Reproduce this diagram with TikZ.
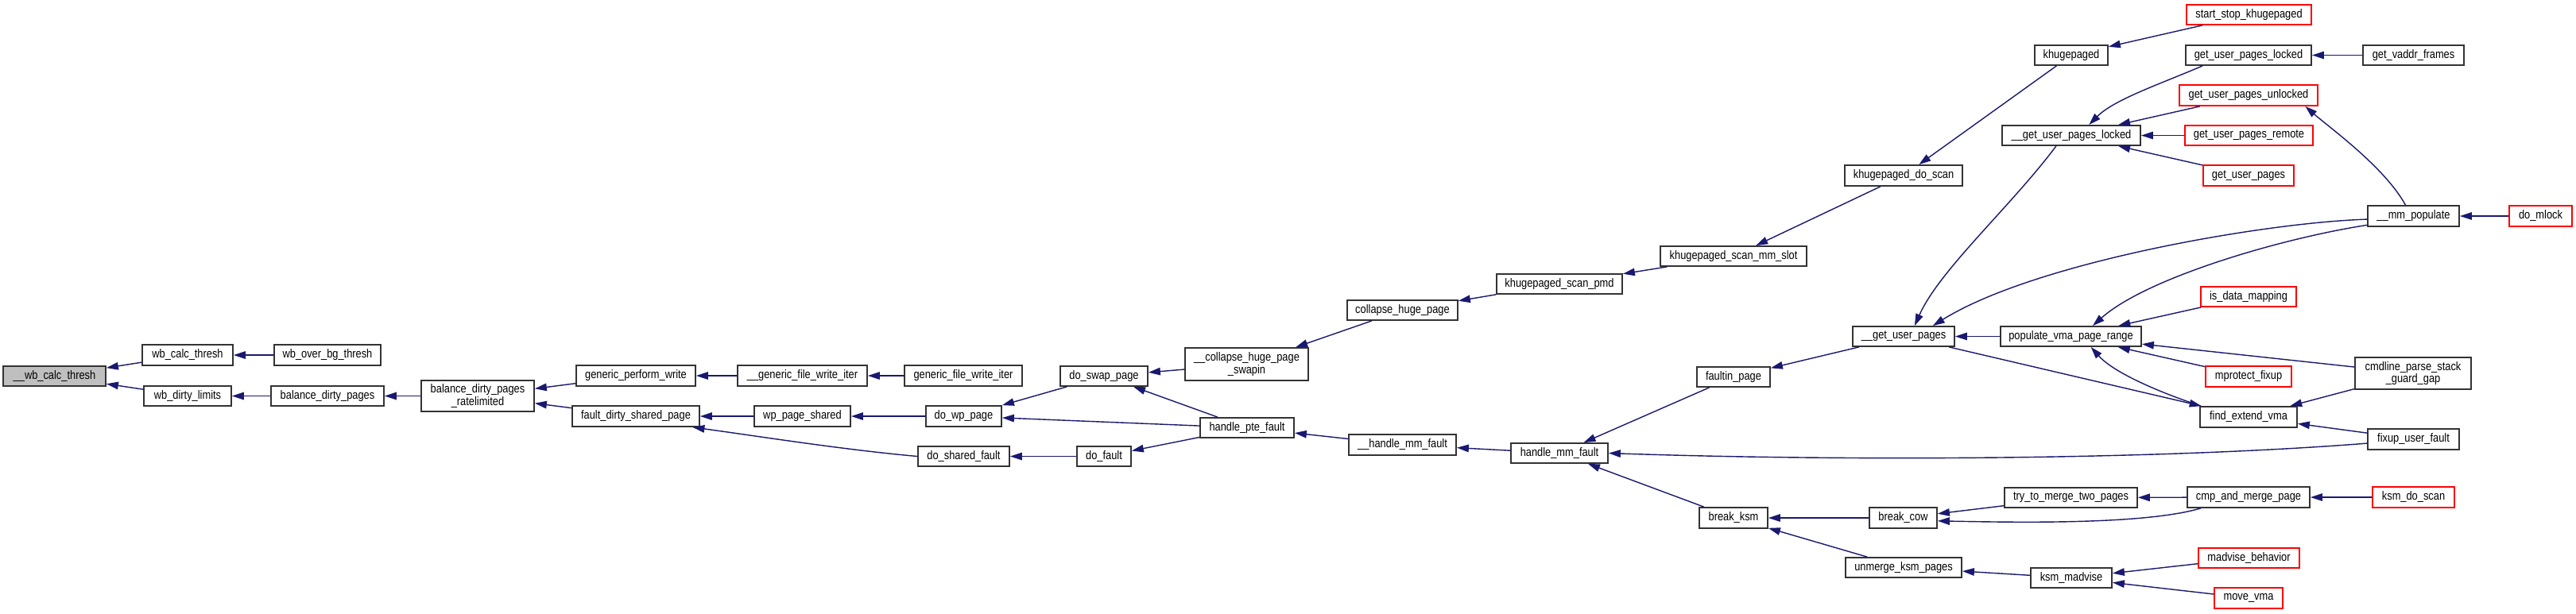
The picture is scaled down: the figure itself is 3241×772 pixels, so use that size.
\documentclass[tikz,border=0pt]{standalone}
\usepackage{fontspec}
\setmainfont[FakeStretch=0.85]{Liberation Sans}
\usetikzlibrary{arrows.meta}
\definecolor{edgeblue}{HTML}{191970}
\tikzset{
  box/.style={draw=black!80, line width=1pt, fill=white, inner sep=0pt, align=center,
    font=\fontsize{8.6}{8.8}\selectfont},
  redbox/.style={box, draw=red},
  mainbox/.style={box, fill=black!25},
  edge/.style={draw=edgeblue, line width=0.8pt, -{Triangle[length=0.3cm,width=0.19cm]}}
}
\newcommand{\fn}[7][box]{%
  \node[#1, minimum width={(#5-#3)*0.02cm}, minimum height={(#6-#4)*0.02cm}]
    (#2) at ({(#3+#5)/2},{(#4+#6)/2}) {#7};}
\begin{document}
\begin{tikzpicture}[x=0.02cm,y=-0.02cm]
\useasboundingbox (0,0) rectangle (3241,772);
% nodes
\fn[mainbox]{wbctz}{4}{461}{133}{486}{\_\_wb\_calc\_thresh}
\fn{wbct}{179}{434}{293}{460}{wb\_calc\_thresh}
\fn{wbover}{345}{434}{479}{460}{wb\_over\_bg\_thresh}
\fn{wbdl}{181}{486}{291}{511}{wb\_dirty\_limits}
\fn{bdp}{341}{486}{483}{511}{balance\_dirty\_pages}
\fn{bdpr}{530}{479}{672}{518}{balance\_dirty\_pages\\\_ratelimited}
\fn{gpw}{725}{460}{875}{486}{generic\_perform\_write}
\fn{gfwiz}{928}{460}{1091}{486}{\_\_generic\_file\_write\_iter}
\fn{gfwi}{1138}{460}{1286}{486}{generic\_file\_write\_iter}
\fn{fdsp}{720}{511}{880}{537}{fault\_dirty\_shared\_page}
\fn{wps}{949}{511}{1070}{537}{wp\_page\_shared}
\fn{dwp}{1165}{511}{1260}{537}{do\_wp\_page}
\fn{dsf}{1155}{562}{1270}{587}{do\_shared\_fault}
\fn{dsp}{1334}{461}{1444}{486}{do\_swap\_page}
\fn{swapin}{1491}{438}{1646}{479}{\_\_collapse\_huge\_page\\\_swapin}
\fn{chp}{1695}{378}{1834}{403}{collapse\_huge\_page}
\fn{ksp}{1883}{345}{2041}{370}{khugepaged\_scan\_pmd}
\fn{ksms}{2089}{310}{2273}{335}{khugepaged\_scan\_mm\_slot}
\fn{kds}{2321}{208}{2469}{234}{khugepaged\_do\_scan}
\fn{khp}{2560}{57}{2652}{82}{khugepaged}
\fn[redbox]{sskh}{2751}{6}{2908}{31}{start\_stop\_khugepaged}
\fn{hpf}{1510}{526}{1628}{551}{handle\_pte\_fault}
\fn{dfault}{1355}{562}{1423}{587}{do\_fault}
\fn{hmfz}{1697}{547}{1832}{573}{\_\_handle\_mm\_fault}
\fn{hmf}{1901}{558}{2023}{583}{handle\_mm\_fault}
\fn{fip}{2135}{462}{2227}{487}{faultin\_page}
\fn{gup}{2331}{411}{2459}{436}{\_\_get\_user\_pages}
\fn{pvpr}{2517}{411}{2694}{436}{populate\_vma\_page\_range}
\fn{gupl}{2519}{158}{2693}{183}{\_\_get\_user\_pages\_locked}
\fn{gupld}{2750}{57}{2908}{82}{get\_user\_pages\_locked}
\fn{gvf}{2973}{57}{3100}{82}{get\_vaddr\_frames}
\fn[redbox]{gupu}{2742}{107}{2916}{133}{get\_user\_pages\_unlocked}
\fn[redbox]{gupr}{2749}{158}{2910}{183}{get\_user\_pages\_remote}
\fn[redbox]{gupg}{2772}{208}{2886}{234}{get\_user\_pages}
\fn{mmpop}{2979}{259}{3094}{285}{\_\_mm\_populate}
\fn[redbox]{dml}{3157}{259}{3236}{285}{do\_mlock}
\fn[redbox]{idm}{2769}{361}{2889}{386}{is\_data\_mapping}
\fn[redbox]{mpf}{2775}{461}{2883}{487}{mprotect\_fixup}
\fn{cmdl}{2963}{450}{3109}{490}{cmdline\_parse\_stack\\\_guard\_gap}
\fn{fev}{2768}{512}{2890}{538}{find\_extend\_vma}
\fn{fuf}{2979}{540}{3094}{566}{fixup\_user\_fault}
\fn{bksm}{2138}{639}{2224}{665}{break\_ksm}
\fn{bcow}{2352}{639}{2437}{665}{break\_cow}
\fn{ttm}{2522}{614}{2689}{639}{try\_to\_merge\_two\_pages}
\fn{cmp}{2752}{613}{2906}{639}{cmp\_and\_merge\_page}
\fn[redbox]{kdscan}{2985}{613}{3088}{639}{ksm\_do\_scan}
\fn{ukp}{2322}{702}{2468}{727}{unmerge\_ksm\_pages}
\fn{kmad}{2555}{715}{2657}{740}{ksm\_madvise}
\fn[redbox]{mbeh}{2766}{690}{2893}{715}{madvise\_behavior}
\fn[redbox]{mvma}{2786}{740}{2872}{766}{move\_vma}
% straight edges (caller -> callee)
\draw[edge] (wbct) -- (wbctz);
\draw[edge] (wbdl) -- (wbctz);
\draw[edge] (wbover) -- (wbct);
\draw[edge] (bdp) -- (wbdl);
\draw[edge] (bdpr) -- (bdp);
\draw[edge] (gpw) -- (bdpr);
\draw[edge] (fdsp) -- (bdpr);
\draw[edge] (gfwiz) -- (gpw);
\draw[edge] (gfwi) -- (gfwiz);
\draw[edge] (wps) -- (fdsp);
\draw[edge] (dwp) -- (wps);
\draw[edge] (dsp) -- (dwp);
\draw[edge] (hpf) -- (dwp);
\draw[edge] (dfault) -- (dsf);
\draw[edge] (swapin) -- (dsp);
\draw[edge] (hpf) -- (dsp);
\draw[edge] (hpf) -- (dfault);
\draw[edge] (chp) -- (swapin);
\draw[edge] (ksp) -- (chp);
\draw[edge] (ksms) -- (ksp);
\draw[edge] (kds) -- (ksms);
\draw[edge] (khp) -- (kds);
\draw[edge] (sskh) -- (khp);
\draw[edge] (hmfz) -- (hpf);
\draw[edge] (hmf) -- (hmfz);
\draw[edge] (fip) -- (hmf);
\draw[edge] (bksm) -- (hmf);
\draw[edge] (gup) -- (fip);
\draw[edge] (pvpr) -- (gup);
\draw[edge] (gup) -- (fev);
\draw[edge] (idm) -- (pvpr);
\draw[edge] (cmdl) -- (pvpr);
\draw[edge] (mpf) -- (pvpr);
\draw[edge] (cmdl) -- (fev);
\draw[edge] (fuf) -- (fev);
\draw[edge] (gupu) -- (gupl);
\draw[edge] (gupr) -- (gupl);
\draw[edge] (gupg) -- (gupl);
\draw[edge] (gvf) -- (gupld);
\draw[edge] (dml) -- (mmpop);
\draw[edge] (bcow) -- (bksm);
\draw[edge] (ukp) -- (bksm);
\draw[edge] (ttm) -- (bcow);
\draw[edge] (cmp) -- (ttm);
\draw[edge] (kdscan) -- (cmp);
\draw[edge] (kmad) -- (ukp);
\draw[edge] (mbeh) -- (kmad);
\draw[edge] (mvma) -- (kmad);
% curved edges
\draw[edge] (dsf.west) .. controls (1060,566) and (960,550) .. (fdsp.-11);
\draw[edge] (fuf.185) .. controls (2700,580) and (2300,580) .. (hmf.east);
\draw[edge] (cmp.193) .. controls (2700,660) and (2550,658) .. (bcow.-5);
\draw[edge] (gupl.215) .. controls (2530,260) and (2440,340) .. (gup.44);
\draw[edge] (mmpop.184) .. controls (2850,280) and (2560,330) .. (gup.20);
\draw[edge] (mmpop.191) .. controls (2870,300) and (2700,350) .. (pvpr.26);
\draw[edge] (mmpop.126) .. controls (3000,210) and (2930,160) .. (gupu.-11);
\draw[edge] (gupld.193) .. controls (2720,105) and (2660,125) .. (gupl.31);
\draw[edge] (fev.167) .. controls (2720,495) and (2660,470) .. (pvpr.-28);
\end{tikzpicture}
\end{document}
